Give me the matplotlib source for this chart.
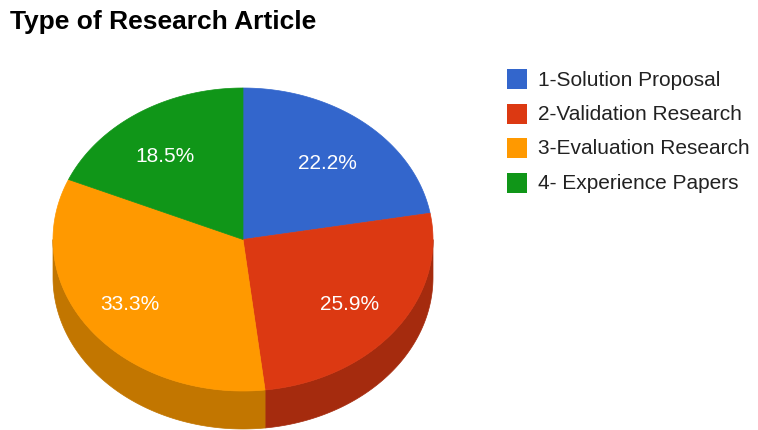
import numpy as np
import matplotlib.pyplot as plt
from matplotlib.patches import Polygon, Rectangle

categories = ["1-Solution Proposal", "2-Validation Research",
              "3-Evaluation Research", "4- Experience Papers"]
counts = [6, 7, 9, 5]
top_colors = ["#3366cc", "#dc3912", "#ff9900", "#109618"]
side_colors = ["#264c99", "#a52b0e", "#c27600", "#0c7012"]

W, H = 758, 431
cx, cy = 243, 240.5    # centre of the top face (pixels)
rx, ry = 190, 151.5    # ellipse radii
depth = 38             # thickness of the pie


def ellipse_pts(a0, a1, dy=0.0, n=120):
    # angles measured clockwise from 12 o'clock, in degrees
    t = np.radians(np.linspace(a0, a1, n))
    return np.column_stack([cx + rx * np.sin(t), cy - ry * np.cos(t) + dy])


fig = plt.figure(figsize=(W / 100, H / 100), dpi=100)
ax = fig.add_axes([0, 0, 1, 1])
ax.set_xlim(0, W)
ax.set_ylim(H, 0)
ax.axis("off")

fracs = np.array(counts) / np.sum(counts)
bounds = np.concatenate([[0], np.cumsum(fracs) * 360])

# side walls (only the front half, 90..270 degrees, is visible)
for i in range(len(counts)):
    a0, a1 = max(bounds[i], 90), min(bounds[i + 1], 270)
    if a1 <= a0:
        continue
    top = ellipse_pts(a0, a1)
    bot = ellipse_pts(a0, a1, dy=depth)[::-1]
    ax.add_patch(Polygon(np.vstack([top, bot]), closed=True,
                         fc=side_colors[i], ec=side_colors[i], lw=0.5))

# top faces with percentage labels
for i in range(len(counts)):
    arc = ellipse_pts(bounds[i], bounds[i + 1])
    pts = np.vstack([[cx, cy], arc])
    ax.add_patch(Polygon(pts, closed=True, fc=top_colors[i],
                         ec=top_colors[i], lw=0.5))
    mid = np.radians((bounds[i] + bounds[i + 1]) / 2)
    lx = cx - 3 + 0.72 * rx * np.sin(mid)
    ly = cy - 0.68 * ry * np.cos(mid) + 2
    ax.text(lx, ly, f"{fracs[i] * 100:.1f}%", color="white", fontsize=15,
            family="Liberation Sans", ha="center", va="center")

# legend
for i, name in enumerate(categories):
    y = 80 + i * 34.5
    ax.add_patch(Rectangle((507, y - 10), 20, 20, fc=top_colors[i], ec="none"))
    ax.text(538, y, name, color="#222222", fontsize=15,
            family="Liberation Sans", ha="left", va="center")

ax.text(10, 29, "Type of Research Article", color="#000000", fontsize=19,
        fontweight="bold", family="Liberation Sans", ha="left", va="baseline")

fig.savefig("out.png", dpi=100, facecolor="white")
